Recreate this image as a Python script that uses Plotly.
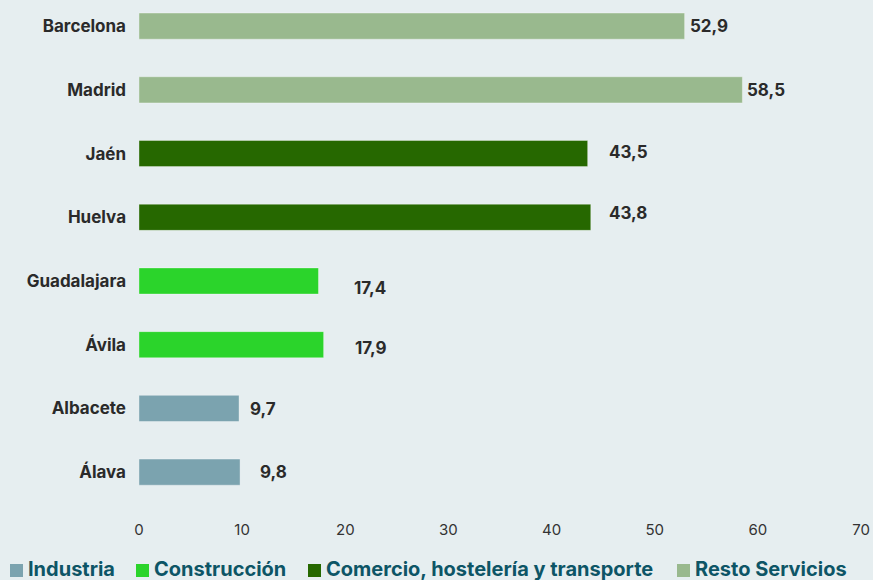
import plotly.graph_objects as go

# ---- data ----
series_names = ["Industria", "Construcción", "Comercio, hostelería y transporte", "Resto Servicios"]
industria_cats = ["Álava", "Albacete"]
industria_vals = [9.8, 9.7]
construccion_cats = ["Ávila", "Guadalajara"]
construccion_vals = [17.9, 17.4]
comercio_cats = ["Huelva", "Jaén"]
comercio_vals = [43.8, 43.5]
resto_cats = ["Madrid", "Barcelona"]
resto_vals = [58.5, 52.9]
category_order = ["Álava", "Albacete", "Ávila", "Guadalajara", "Huelva", "Jaén", "Madrid", "Barcelona"]
x_ticks = [0, 10, 20, 30, 40, 50, 60, 70]

# ---- style ----
colors = ["#7ba3af", "#2bd42b", "#266800", "#99b98e"]
bg = "#e6eef0"
FONT = "Inter, Roboto, sans-serif"
W, H = 873, 580
ML, MR, MT, MB = 139, 12, 0, 76
PW, PH = W - ML - MR, H - MT - MB
# label offsets in pixels (xshift, yshift) per category
label_shift = {
    "Barcelona": (3, 0), "Madrid": (3, 0), "Jaén": (19, 2), "Huelva": (16, 4),
    "Guadalajara": (34, -7), "Ávila": (29, -3), "Albacete": (9, -1), "Álava": (18, 0),
}
# legend entry left edges (pixels from figure left), square size
legend_px = [10, 136, 308, 677]
SQ = 13

fig = go.Figure()
groups = [
    (industria_cats, industria_vals),
    (construccion_cats, construccion_vals),
    (comercio_cats, comercio_vals),
    (resto_cats, resto_vals),
]
for i, (name, color, (cats, vals)) in enumerate(zip(series_names, colors, groups)):
    fig.add_trace(go.Bar(
        x=vals, y=cats, name=name, orientation="h",
        marker=dict(color=color, line=dict(color="rgba(255,255,255,0.35)", width=1)),
        width=0.41, hoverinfo="x+y",
    ))
    for c, v in zip(cats, vals):
        dx, dy = label_shift[c]
        fig.add_annotation(
            x=v, y=c, xref="x", yref="y", text=f"<b>{v:.1f}</b>".replace(".", ","),
            showarrow=False, xanchor="left", yanchor="middle",
            xshift=dx, yshift=dy,
            font=dict(family=FONT, size=17, color="#2a2a2a"),
        )
    # manual legend entry
    px = legend_px[i]
    x0 = (px - ML) / PW
    x1 = (px + SQ - ML) / PW
    yb = (H - MB - 577) / PH
    yt = (H - MB - 577 + SQ) / PH
    fig.add_shape(type="rect", xref="paper", yref="paper", x0=x0, x1=x1, y0=yb, y1=yt,
                  fillcolor=color, line=dict(width=0), layer="above")
    fig.add_annotation(
        x=(px + SQ + 4 - ML) / PW, y=(H - MB - 569) / PH, xref="paper", yref="paper",
        text=f"<b>{name}</b>", showarrow=False, xanchor="left", yanchor="middle",
        font=dict(family=FONT, size=20, color="#0d5566"), borderpad=0,
    )

fig.update_layout(
    width=W, height=H,
    paper_bgcolor=bg, plot_bgcolor=bg,
    margin=dict(l=ML, r=MR, t=MT, b=MB, autoexpand=False),
    barmode="overlay",
    showlegend=False,
    font=dict(family=FONT),
)
fig.update_xaxes(
    range=[0, 70], tickvals=x_ticks, showgrid=False, zeroline=False,
    showline=False, ticks="", ticklabelstandoff=15, automargin=False,
    tickfont=dict(size=15, color="#333333"),
)
fig.update_yaxes(
    type="category", categoryorder="array", categoryarray=category_order,
    range=[-0.5, 7.41], showgrid=False, zeroline=False, showline=False,
    ticks="", ticklabelstandoff=12, automargin=False,
    tickfont=dict(size=17, color="#2a2a2a", weight="bold"),
)

fig.write_html("out.html", config={"displayModeBar": False},
               post_script="document.body.style.margin='0';")
